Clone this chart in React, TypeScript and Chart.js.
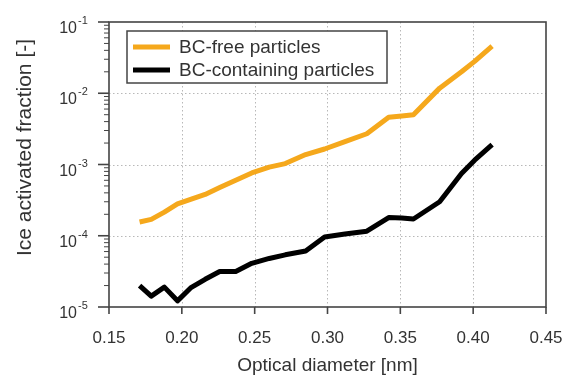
import React, { useEffect, useRef } from 'react';
import { Chart, registerables } from 'chart.js';

Chart.register(...registerables);

const diameters = [0.171, 0.179, 0.188, 0.197, 0.206, 0.216, 0.226, 0.237, 0.248, 0.26, 0.271, 0.285, 0.298, 0.312, 0.327, 0.342, 0.351, 0.359, 0.377, 0.392, 0.401, 0.413];
const bcFree = [1.56e-4, 1.7e-4, 2.15e-4, 2.8e-4, 3.25e-4, 3.8e-4, 4.75e-4, 6.0e-4, 7.6e-4, 9.2e-4, 1.03e-3, 1.38e-3, 1.65e-3, 2.1e-3, 2.7e-3, 4.6e-3, 4.8e-3, 5.0e-3, 1.18e-2, 2.0e-2, 2.8e-2, 4.6e-2];
const bcContaining = [2.0e-5, 1.42e-5, 1.9e-5, 1.22e-5, 1.85e-5, 2.45e-5, 3.15e-5, 3.15e-5, 4.1e-5, 4.8e-5, 5.4e-5, 6.1e-5, 9.6e-5, 1.06e-4, 1.16e-4, 1.8e-4, 1.78e-4, 1.72e-4, 3.0e-4, 7.5e-4, 1.15e-3, 1.9e-3];

const seriesLabels = ['BC-free particles', 'BC-containing particles'];
const seriesColors = ['#F5A81C', '#000000'];
const xTickValues = [0.15, 0.2, 0.25, 0.3, 0.35, 0.4, 0.45];
const yExponents = [-5, -4, -3, -2, -1];
const xTitle = 'Optical diameter [nm]';
const yTitle = 'Ice activated fraction [-]';

const FONT = '"Liberation Sans", Arial, sans-serif';
const TEXT = '#333333';
const AXIS = '#444444';

const decorPlugin = {
  id: 'decor',
  beforeDatasetsDraw(chart: any) {
    const { ctx, chartArea: a, scales } = chart;
    const x = scales.x;
    const y = scales.y;
    ctx.save();
    ctx.strokeStyle = '#b8b8b8';
    ctx.lineWidth = 1;
    ctx.setLineDash([1.5, 2.5]);
    xTickValues.forEach((v) => {
      const px = Math.round(x.getPixelForValue(v)) + 0.5;
      if (px > a.left + 3 && px < a.right - 3) {
        ctx.beginPath();
        ctx.moveTo(px, a.top);
        ctx.lineTo(px, a.bottom);
        ctx.stroke();
      }
    });
    yExponents.forEach((e) => {
      const py = Math.round(y.getPixelForValue(Math.pow(10, e))) + 0.5;
      if (py > a.top + 3 && py < a.bottom - 3) {
        ctx.beginPath();
        ctx.moveTo(a.left, py);
        ctx.lineTo(a.right, py);
        ctx.stroke();
      }
    });
    ctx.restore();
  },
  afterDraw(chart: any) {
    const { ctx, chartArea: a, scales } = chart;
    const x = scales.x;
    const y = scales.y;
    ctx.save();
    // frame
    ctx.strokeStyle = AXIS;
    ctx.lineWidth = 1.6;
    ctx.strokeRect(a.left, a.top, a.right - a.left, a.bottom - a.top);
    // x ticks
    ctx.lineWidth = 1.6;
    xTickValues.forEach((v) => {
      const px = x.getPixelForValue(v);
      ctx.beginPath();
      ctx.moveTo(px, a.bottom);
      ctx.lineTo(px, a.bottom + 7);
      ctx.stroke();
    });
    // y ticks (major + minor)
    for (let i = 0; i < yExponents.length; i++) {
      const e = yExponents[i];
      const py = y.getPixelForValue(Math.pow(10, e));
      ctx.lineWidth = 1.6;
      ctx.beginPath();
      ctx.moveTo(a.left - 11, py);
      ctx.lineTo(a.left, py);
      ctx.stroke();
      if (i < yExponents.length - 1) {
        ctx.lineWidth = 1;
        for (let m = 2; m <= 9; m++) {
          const pm = y.getPixelForValue(m * Math.pow(10, e));
          ctx.beginPath();
          ctx.moveTo(a.left - 5, pm);
          ctx.lineTo(a.left, pm);
          ctx.stroke();
        }
      }
      // label 10^e
      ctx.fillStyle = TEXT;
      ctx.textBaseline = 'alphabetic';
      ctx.textAlign = 'right';
      ctx.font = `16px ${FONT}`;
      ctx.fillText('10', 77, py + 11);
      ctx.textAlign = 'left';
      ctx.font = `11px ${FONT}`;
      ctx.fillText(String(e), 78, py + 2);
    }
    // y title
    ctx.save();
    ctx.translate(25, (a.top + a.bottom) / 2 - 17);
    ctx.rotate(-Math.PI / 2);
    ctx.font = `21px ${FONT}`;
    ctx.fillStyle = TEXT;
    ctx.textAlign = 'center';
    ctx.textBaseline = 'middle';
    ctx.fillText(yTitle, 0, 0);
    ctx.restore();
    // legend
    const lx = a.left + 18;
    const ly = a.top + 9;
    const lw = 260;
    const lh = 52;
    ctx.fillStyle = '#ffffff';
    ctx.fillRect(lx, ly, lw, lh);
    ctx.strokeStyle = AXIS;
    ctx.lineWidth = 1.5;
    ctx.strokeRect(lx, ly, lw, lh);
    chart.data.datasets.forEach((ds: any, i: number) => {
      const cy = ly + 16 + i * 23;
      ctx.strokeStyle = ds.borderColor;
      ctx.lineWidth = 5;
      ctx.beginPath();
      ctx.moveTo(lx + 6, cy);
      ctx.lineTo(lx + 43, cy);
      ctx.stroke();
      ctx.fillStyle = TEXT;
      ctx.font = `19px ${FONT}`;
      ctx.textAlign = 'left';
      ctx.textBaseline = 'middle';
      ctx.fillText(ds.label, lx + 52, cy + 1);
    });
    ctx.restore();
  },
};

export default function App() {
  const canvasRef = useRef<HTMLCanvasElement | null>(null);
  useEffect(() => {
    if (!canvasRef.current) return;
    const chart = new Chart(canvasRef.current, {
      type: 'line',
      data: {
        datasets: [
          {
            label: seriesLabels[0],
            data: diameters.map((d, i) => ({ x: d, y: bcFree[i] })),
            borderColor: seriesColors[0],
            borderWidth: 5,
            pointRadius: 0,
            borderJoinStyle: 'round',
            tension: 0,
          },
          {
            label: seriesLabels[1],
            data: diameters.map((d, i) => ({ x: d, y: bcContaining[i] })),
            borderColor: seriesColors[1],
            borderWidth: 5,
            pointRadius: 0,
            borderJoinStyle: 'round',
            tension: 0,
          },
        ],
      },
      options: {
        animation: false,
        responsive: false,
        layout: { padding: { top: 22, right: 19, left: 0, bottom: 0 } },
        plugins: { legend: { display: false }, tooltip: { enabled: false } },
        scales: {
          x: {
            type: 'linear',
            min: 0.15,
            max: 0.45,
            grid: { display: false },
            border: { display: false },
            ticks: {
              stepSize: 0.05,
              autoSkip: false,
              maxRotation: 0,
              padding: 13,
              color: TEXT,
              font: { family: FONT, size: 17 },
              callback: (v: any) => Number(v).toFixed(2),
            },
            title: {
              display: true,
              text: xTitle,
              color: TEXT,
              font: { family: FONT, size: 19, lineHeight: 1 },
              padding: { top: 0, bottom: 0 },
            },
            afterFit: (s: any) => {
              s.height = 68;
              s.paddingLeft = 0;
              s.paddingRight = 0;
            },
          },
          y: {
            type: 'logarithmic',
            min: 1e-5,
            max: 1e-1,
            grid: { display: false },
            border: { display: false },
            ticks: { display: false },
            afterFit: (s: any) => {
              s.width = 109;
              s.paddingTop = 0;
              s.paddingBottom = 0;
            },
          },
        },
      } as any,
      plugins: [decorPlugin],
    });
    return () => chart.destroy();
  }, []);
  return (
    <div style={{ position: 'absolute', left: 0, top: 0, width: 565, height: 375, background: '#fff' }}>
      <canvas ref={canvasRef} width={565} height={375} />
    </div>
  );
}
